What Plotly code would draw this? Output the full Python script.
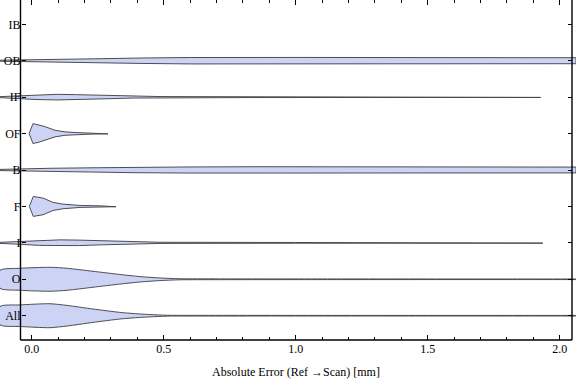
import plotly.graph_objects as go

# Categories (bottom to top)
categories = ["All", "O", "I", "F", "B", "OF", "IF", "OB", "IB"]

# Density profiles: x = absolute error [mm], w = half-width (category units)
all_x = [-0.120, -0.044, 0.069, 0.134, 0.232, 0.334, 0.410, 0.486, 0.524, 0.600, 1.000, 1.500, 1.900, 2.100, 2.250]
all_w = [0.252, 0.296, 0.329, 0.283, 0.184, 0.091, 0.047, 0.019, 0.011, 0.0096, 0.009, 0.008, 0.008, 0.008, 0.008]

o_x = [-0.120, -0.044, 0.069, 0.134, 0.232, 0.334, 0.410, 0.486, 0.562, 0.702, 1.100, 1.600, 1.900, 2.100, 2.250]
o_w = [0.247, 0.302, 0.329, 0.302, 0.219, 0.132, 0.074, 0.036, 0.014, 0.011, 0.009, 0.008, 0.008, 0.008, 0.008]

i_x = [-0.120, -0.040, 0.030, 0.107, 0.180, 0.259, 0.384, 0.486, 1.000, 1.936]
i_w = [0.014, 0.041, 0.070, 0.082, 0.075, 0.055, 0.027, 0.016, 0.010, 0.008]

f_x = [-0.009, 0.006, 0.043, 0.081, 0.119, 0.183, 0.259, 0.319]
f_w = [0.0, 0.274, 0.228, 0.110, 0.063, 0.027, 0.016, 0.008]

b_x = [-0.120, -0.042, 0.069, 0.250, 0.384, 0.600, 0.865, 1.400, 2.062]
b_w = [0.016, 0.036, 0.047, 0.062, 0.074, 0.084, 0.090, 0.088, 0.080]

of_x = [-0.010, 0.005, 0.031, 0.050, 0.088, 0.126, 0.172, 0.221, 0.289]
of_w = [0.0, 0.274, 0.228, 0.192, 0.091, 0.047, 0.027, 0.016, 0.008]

if_x = [-0.120, -0.040, 0.020, 0.096, 0.170, 0.259, 0.384, 0.486, 0.827, 1.928]
if_w = [0.014, 0.041, 0.066, 0.077, 0.068, 0.049, 0.025, 0.016, 0.011, 0.008]

ob_x = [-0.120, -0.040, 0.069, 0.259, 0.410, 0.600, 1.016, 1.585, 2.062]
ob_w = [0.014, 0.027, 0.036, 0.055, 0.074, 0.088, 0.090, 0.086, 0.082]

x_tick_vals = [0.0, 0.5, 1.0, 1.5, 2.0]
x_tick_text = ["0.0", "0.5", "1.0", "1.5", "2.0"]
x_minor_vals = [0.1, 0.2, 0.3, 0.4, 0.6, 0.7, 0.8, 0.9, 1.1, 1.2, 1.3, 1.4,
                1.6, 1.7, 1.8, 1.9]

profiles = {
    "All": (all_x, all_w, "spline"),
    "O": (o_x, o_w, "spline"),
    "I": (i_x, i_w, "linear"),
    "F": (f_x, f_w, "linear"),
    "B": (b_x, b_w, "linear"),
    "OF": (of_x, of_w, "linear"),
    "IF": (if_x, if_w, "linear"),
    "OB": (ob_x, ob_w, "linear"),
}

FILL = "rgb(204,211,245)"
EDGE = "rgba(70,70,70,0.95)"
FONT = "Liberation Serif"

fig = go.Figure()
for pos, cat in enumerate(categories, start=1):
    if cat not in profiles:
        continue
    xs, ws, shape = profiles[cat]
    px = list(xs) + list(reversed(xs)) + [xs[0]]
    py = [pos + w for w in ws] + [pos - w for w in reversed(ws)] + [pos + ws[0]]
    fig.add_trace(go.Scatter(
        x=px, y=py, mode="lines", fill="toself", fillcolor=FILL,
        line=dict(color=EDGE, width=1, shape=shape, smoothing=0.6),
        name=cat, showlegend=False, hoverinfo="skip"))

# invisible trace to carry the right-hand frame ticks
fig.add_trace(go.Scatter(x=[1.0], y=[5], yaxis="y2", mode="markers",
                         marker=dict(opacity=0), showlegend=False, hoverinfo="skip"))

W, H = 576, 381
PLOT_H = 340
X0_PX, PX_PER_UNIT = 31.7, 264.0


def px_to_x(p):
    return (p - X0_PX) / PX_PER_UNIT


x_left_frame = px_to_x(20.5)
x_right_frame = px_to_x(572.0)

yrange = [0.333, 9.667]
fig.update_layout(
    width=W, height=H,
    margin=dict(l=0, r=0, t=0, b=H - PLOT_H),
    paper_bgcolor="white", plot_bgcolor="white",
    xaxis=dict(
        domain=[0, 1], range=[px_to_x(0), px_to_x(W)],
        tickmode="array", tickvals=x_tick_vals, ticktext=x_tick_text,
        ticks="inside", ticklen=5, tickwidth=1, tickcolor="black",
        mirror="ticks", showline=False, showgrid=False, zeroline=False,
        minor=dict(tickmode="array", tickvals=x_minor_vals, ticks="inside",
                   ticklen=3, tickwidth=1, tickcolor="black", showgrid=False),
        tickfont=dict(family=FONT, size=12, color="black"),
    ),
    yaxis=dict(
        range=yrange, anchor="free", position=20.5 / W, side="left",
        tickmode="array", tickvals=list(range(1, len(categories) + 1)), ticktext=categories,
        ticks="inside", ticklen=4, tickwidth=1, tickcolor="black",
        showline=False, showgrid=False, zeroline=False,
        tickfont=dict(family=FONT, size=12, color="black"),
    ),
    yaxis2=dict(
        range=yrange, anchor="free", position=572 / W, side="right", overlaying="y",
        tickmode="array", tickvals=list(range(1, len(categories) + 1)),
        ticks="inside", ticklen=4, tickwidth=1, tickcolor="black",
        showticklabels=False, showline=False, showgrid=False, zeroline=False,
    ),
    shapes=[
        dict(type="line", xref="x", yref="paper", x0=x_left_frame, x1=x_left_frame,
             y0=0, y1=1, line=dict(color="black", width=1.4)),
        dict(type="line", xref="x", yref="paper", x0=x_right_frame, x1=x_right_frame,
             y0=0, y1=1, line=dict(color="black", width=1.4)),
        dict(type="line", xref="x", yref="paper", x0=x_left_frame, x1=x_right_frame,
             y0=0, y1=0, line=dict(color="black", width=1.4)),
    ],
    annotations=[
        dict(text="Absolute Error (Ref →Scan) [mm]", xref="x", yref="paper",
             x=(x_left_frame + x_right_frame) / 2, y=-(372 - PLOT_H) / PLOT_H,
             xanchor="center", yanchor="middle", showarrow=False,
             font=dict(family=FONT, size=12, color="black")),
    ],
)

fig.write_html("out.html", config={"displayModeBar": False},
               post_script="document.body.style.margin='0';document.body.style.padding='0';")
